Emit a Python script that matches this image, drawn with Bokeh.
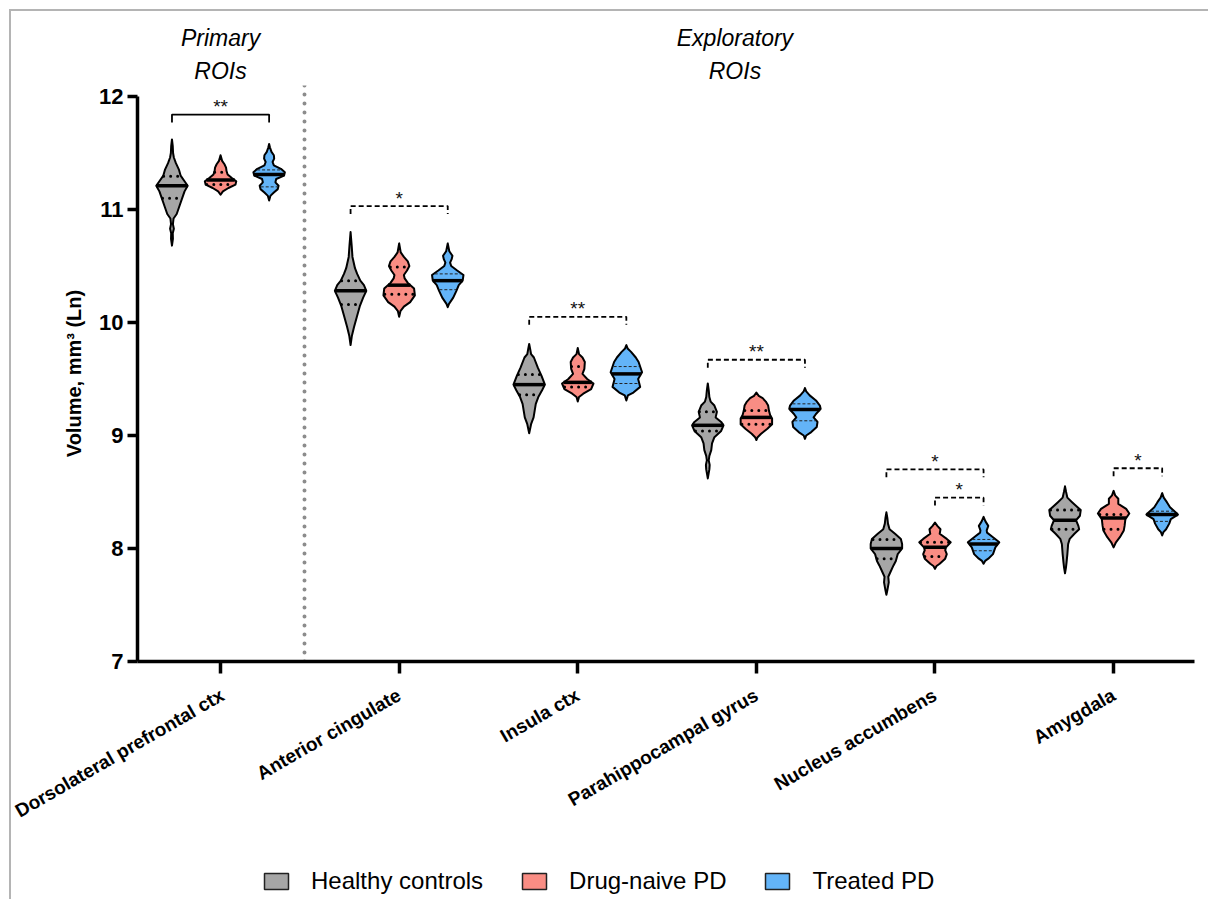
import numpy as np
from bokeh.plotting import figure
from bokeh.layouts import column
from bokeh.models import Range1d, FixedTicker, Legend, LegendItem
from bokeh.embed import file_html
from bokeh.resources import INLINE
from bokeh.core.properties import value

# ---------------- data ----------------
regions = ["Dorsolateral prefrontal ctx", "Anterior cingulate", "Insula ctx",
           "Parahippocampal gyrus", "Nucleus accumbens", "Amygdala"]
groups = ["Healthy controls", "Drug-naive PD", "Treated PD"]
colors = ["#a6a6a6", "#f98d84", "#63b4f8"]
y_ticks = [7, 8, 9, 10, 11, 12]
section_titles = ["Primary", "ROIs", "Exploratory", "ROIs"]

# medians and quartiles (ln mm^3)
hc_median = [11.21, 10.28, 9.45, 9.09, 8.00, 8.25]
hc_q3 = [11.295, 10.37, 9.54, 9.21, 8.08, 8.34]
hc_q1 = [11.10, 10.16, 9.36, 9.04, 7.91, 8.17]
dn_median = [11.26, 10.33, 9.47, 9.16, 8.01, 8.27]
dn_q3 = [11.33, 10.49, 9.61, 9.22, 8.055, 8.30]
dn_q1 = [11.22, 10.25, 9.43, 9.10, 7.93, 8.17]
tr_median = [11.31, 10.37, 9.545, 9.23, 8.04, 8.30]
tr_q3 = [11.35, 10.43, 9.61, 9.28, 8.08, 8.33]
tr_q1 = [11.20, 10.29, 9.46, 9.13, 7.98, 8.24]

# violin density profiles: levels (ln mm^3) and relative half-widths
hc_levels = [
    [10.68, 10.74, 10.79, 10.83, 10.87, 10.92, 10.96, 11.02, 11.10, 11.16, 11.21, 11.25, 11.30, 11.35, 11.41, 11.46, 11.50, 11.56, 11.62],
    [9.80, 9.88, 9.96, 10.05, 10.15, 10.22, 10.28, 10.33, 10.37, 10.43, 10.48, 10.58, 10.68, 10.80],
    [9.02, 9.10, 9.16, 9.22, 9.28, 9.34, 9.40, 9.45, 9.53, 9.60, 9.69, 9.72, 9.76, 9.81],
    [8.62, 8.66, 8.70, 8.74, 8.78, 8.82, 8.87, 8.93, 8.985, 9.04, 9.09, 9.12, 9.16, 9.21, 9.265, 9.30, 9.34, 9.40, 9.46],
    [7.59, 7.63, 7.66, 7.70, 7.75, 7.79, 7.85, 7.89, 7.95, 8.00, 8.04, 8.085, 8.13, 8.17, 8.22, 8.27, 8.32],
    [7.78, 7.83, 7.88, 7.95, 8.04, 8.085, 8.13, 8.17, 8.20, 8.25, 8.29, 8.34, 8.365, 8.41, 8.45, 8.50, 8.55],
]
hc_widths = [
    [0, 0.06, 0.05, 0.12, 0.06, 0.10, 0.30, 0.45, 0.65, 0.80, 1.0, 0.80, 0.55, 0.45, 0.25, 0.12, 0.07, 0.05, 0],
    [0, 0.08, 0.22, 0.40, 0.60, 0.80, 1.0, 0.85, 0.62, 0.42, 0.28, 0.12, 0.07, 0],
    [0, 0.12, 0.28, 0.35, 0.42, 0.58, 0.82, 1.0, 0.78, 0.55, 0.30, 0.12, 0.07, 0],
    [0, 0.05, 0.10, 0.12, 0.06, 0.10, 0.22, 0.27, 0.42, 0.85, 1.0, 0.85, 0.50, 0.58, 0.42, 0.18, 0.10, 0.06, 0],
    [0, 0.06, 0.10, 0.15, 0.12, 0.25, 0.45, 0.60, 0.72, 1.0, 1.0, 0.92, 0.55, 0.20, 0.10, 0.06, 0],
    [0, 0.06, 0.10, 0.15, 0.20, 0.30, 0.60, 0.90, 0.85, 0.70, 0.95, 1.0, 0.80, 0.45, 0.15, 0.07, 0],
]
dn_levels = [
    [11.13, 11.16, 11.19, 11.22, 11.25, 11.28, 11.31, 11.34, 11.37, 11.40, 11.43, 11.48],
    [10.05, 10.10, 10.14, 10.18, 10.24, 10.30, 10.35, 10.39, 10.42, 10.46, 10.50, 10.54, 10.58, 10.62, 10.70],
    [9.30, 9.34, 9.37, 9.41, 9.46, 9.50, 9.545, 9.59, 9.65, 9.69, 9.72, 9.775],
    [8.96, 8.985, 9.015, 9.06, 9.10, 9.15, 9.18, 9.22, 9.265, 9.30, 9.33, 9.35, 9.38],
    [7.82, 7.845, 7.865, 7.91, 7.95, 7.985, 8.01, 8.055, 8.085, 8.13, 8.17, 8.20, 8.23],
    [8.01, 8.055, 8.10, 8.16, 8.20, 8.26, 8.31, 8.35, 8.395, 8.44, 8.47, 8.51],
]
dn_widths = [
    [0, 0.15, 0.50, 0.95, 1.0, 0.70, 0.45, 0.38, 0.35, 0.25, 0.10, 0],
    [0, 0.08, 0.30, 0.70, 1.0, 0.95, 0.55, 0.35, 0.30, 0.50, 0.65, 0.55, 0.30, 0.10, 0],
    [0, 0.08, 0.35, 0.85, 1.0, 0.60, 0.30, 0.42, 0.45, 0.30, 0.08, 0],
    [0, 0.08, 0.30, 0.70, 1.0, 1.0, 0.88, 0.80, 0.75, 0.60, 0.40, 0.15, 0],
    [0, 0.10, 0.30, 0.65, 0.75, 0.65, 0.70, 1.0, 0.75, 0.30, 0.35, 0.15, 0],
    [0, 0.15, 0.40, 0.65, 0.70, 0.75, 1.0, 0.80, 0.30, 0.30, 0.10, 0],
]
tr_levels = [
    [11.08, 11.12, 11.15, 11.18, 11.21, 11.24, 11.27, 11.30, 11.33, 11.36, 11.39, 11.42, 11.45, 11.48, 11.51, 11.55, 11.58],
    [10.135, 10.165, 10.22, 10.28, 10.33, 10.37, 10.42, 10.46, 10.50, 10.53, 10.56, 10.59, 10.63, 10.70],
    [9.31, 9.355, 9.38, 9.43, 9.50, 9.56, 9.65, 9.69, 9.74, 9.77, 9.80],
    [8.97, 9.00, 9.03, 9.075, 9.12, 9.16, 9.19, 9.235, 9.265, 9.31, 9.355, 9.39, 9.42],
    [7.865, 7.89, 7.91, 7.95, 8.01, 8.055, 8.10, 8.14, 8.16, 8.20, 8.24, 8.28],
    [8.115, 8.145, 8.17, 8.22, 8.26, 8.30, 8.32, 8.365, 8.41, 8.45, 8.49],
]
tr_widths = [
    [0, 0.08, 0.30, 0.55, 0.60, 0.40, 0.45, 0.95, 1.0, 0.75, 0.30, 0.22, 0.32, 0.30, 0.15, 0.05, 0],
    [0, 0.08, 0.35, 0.55, 0.70, 0.95, 1.0, 0.60, 0.22, 0.15, 0.25, 0.30, 0.10, 0],
    [0, 0.10, 0.45, 0.88, 0.75, 1.0, 0.78, 0.60, 0.30, 0.08, 0],
    [0, 0.08, 0.40, 0.75, 0.80, 0.55, 0.70, 1.0, 0.95, 0.70, 0.30, 0.08, 0],
    [0, 0.10, 0.30, 0.60, 0.75, 1.0, 0.60, 0.22, 0.20, 0.30, 0.12, 0],
    [0, 0.08, 0.25, 0.45, 0.55, 1.0, 0.85, 0.50, 0.30, 0.10, 0],
]

# significance brackets
bracket_region = [0, 1, 2, 3, 4, 4, 5]
bracket_from = [0, 0, 0, 0, 0, 1, 1]
bracket_to = [2, 2, 2, 2, 2, 2, 2]
bracket_level = [11.84, 11.03, 10.05, 9.67, 8.70, 8.45, 8.71]
bracket_label = ["**", "*", "**", "**", "*", "*", "*"]
bracket_solid = [True, False, False, False, False, False, False]

# ---------------- layout constants ----------------
OFFSETS = [-0.272, 0.0, 0.272]
HALF_W = 0.088
LEG = 0.07
FONT = "Liberation Sans"
W = 1197
X_RANGE = Range1d(-0.465, 5.453)
TITLE_H = 74

# ---------------- title strip ----------------
title_fig = figure(width=W, height=TITLE_H, x_range=X_RANGE, y_range=Range1d(0, TITLE_H),
                   output_backend="svg", toolbar_location=None,
                   x_axis_location=None, y_axis_location=None,
                   min_border_left=126, min_border_right=W - 1183,
                   min_border_top=0, min_border_bottom=0)
title_fig.outline_line_color = None
title_fig.grid.visible = False
title_fig.text(x=[0, 0, 2.88, 2.88], y=[48, 15, 48, 15], text=section_titles,
               text_align="center", text_baseline="alphabetic",
               text_font=value(FONT), text_font_size="23px",
               text_font_style="italic", text_color="black")

# ---------------- main plot ----------------
p = figure(width=W, height=756,
           x_range=X_RANGE, y_range=Range1d(7, 12.097),
           output_backend="svg", toolbar_location=None,
           min_border_left=126, min_border_right=W - 1183,
           min_border_top=0, min_border_bottom=180)
p.outline_line_color = None
p.grid.visible = False

# separator between primary and exploratory ROIs
p.line([0.47, 0.47], [7, 12.1], line_color="#8c8c8c", line_width=4,
       line_dash="0 9", line_cap="round")

all_medians = [hc_median, dn_median, tr_median]
all_q1 = [hc_q1, dn_q1, tr_q1]
all_q3 = [hc_q3, dn_q3, tr_q3]
all_levels = [hc_levels, dn_levels, tr_levels]
all_widths = [hc_widths, dn_widths, tr_widths]

group_shapes = []
for g in range(3):
    xs, ys = [], []
    mx0, mx1, my = [], [], []
    qx0, qx1, qy = [], [], []
    for i in range(len(regions)):
        cx = i + OFFSETS[g]
        lv = np.array(all_levels[g][i], dtype=float)
        wv = np.array(all_widths[g][i], dtype=float) * HALF_W
        xs.append(list(cx + wv) + list(cx - wv[::-1]))
        ys.append(list(lv) + list(lv[::-1]))
        m = all_medians[g][i]
        wm = np.interp(m, lv, wv)
        mx0.append(cx - wm); mx1.append(cx + wm); my.append(m)
        for q in (all_q1[g][i], all_q3[g][i]):
            wq = np.interp(q, lv, wv) * 0.92
            qx0.append(cx - wq); qx1.append(cx + wq); qy.append(q)
    group_shapes.append((xs, ys))
    p.patches(xs=xs, ys=ys, fill_color=colors[g], line_color="black",
              line_width=2, line_join="round")
    if g < 2:
        p.segment(qx0, qy, qx1, qy, line_color="black", line_width=3,
                  line_dash="0 7", line_cap="round")
    else:
        p.segment(qx0, qy, qx1, qy, line_color="#222222", line_width=1,
                  line_dash="3 2")
    p.segment(mx0, my, mx1, my, line_color="black", line_width=3.5)

# brackets
for k in range(len(bracket_region)):
    xa = bracket_region[k] + OFFSETS[bracket_from[k]]
    xb = bracket_region[k] + OFFSETS[bracket_to[k]]
    lvl = bracket_level[k]
    dash = "solid" if bracket_solid[k] else "5 3"
    p.line([xa, xa, xb, xb], [lvl - LEG, lvl, lvl, lvl - LEG],
           line_color="black", line_width=1.8, line_dash=dash)
p.text(x=[bracket_region[k] + (OFFSETS[bracket_from[k]] + OFFSETS[bracket_to[k]]) / 2
          for k in range(len(bracket_region))],
       y=[lv + 0.07 for lv in bracket_level], text=bracket_label,
       text_align="center", text_baseline="alphabetic",
       text_font=value(FONT), text_font_size="19px", text_color="#111111")

# axes
yax = p.yaxis[0]
yax.bounds = (7, 12)
yax.ticker = FixedTicker(ticks=y_ticks)
yax.major_tick_out = 10
yax.major_tick_in = 0
yax.minor_tick_out = 0
yax.minor_tick_in = 0
yax.axis_line_width = 3.5
yax.major_tick_line_width = 3.5
yax.major_label_text_font = FONT
yax.major_label_text_font_style = "bold"
yax.major_label_text_font_size = "22px"
yax.major_label_text_color = "black"
yax.major_label_standoff = 4
yax.axis_label = "Volume, mm³ (Ln)"
yax.axis_label_text_font = FONT
yax.axis_label_text_font_style = "bold"
yax.axis_label_text_font_size = "20px"
yax.axis_label_text_color = "black"
yax.axis_label_standoff = 11

xax = p.xaxis[0]
xax.ticker = FixedTicker(ticks=list(range(len(regions))))
xax.major_label_overrides = {i: name for i, name in enumerate(regions)}
xax.major_tick_out = 12
xax.major_tick_in = 0
xax.minor_tick_out = 0
xax.minor_tick_in = 0
xax.axis_line_width = 3.5
xax.major_tick_line_width = 3.5
xax.major_label_text_font = FONT
xax.major_label_text_font_style = "bold"
xax.major_label_text_font_size = "19px"
xax.major_label_text_color = "black"
xax.major_label_orientation = np.pi / 6
xax.major_label_standoff = 20

# ---------------- legend strip ----------------
leg_fig = figure(width=W, height=58, x_range=Range1d(0, 1), y_range=Range1d(0, 1),
                 output_backend="svg", toolbar_location=None,
                 x_axis_location=None, y_axis_location=None,
                 min_border=0)
leg_fig.outline_line_color = None
leg_fig.grid.visible = False
legend_items = []
for g in range(3):
    r = leg_fig.patches(xs=group_shapes[g][0], ys=group_shapes[g][1],
                        fill_color=colors[g], line_color="#222222",
                        line_width=1.5, visible=False)
    legend_items.append(LegendItem(label=groups[g], renderers=[r]))
legend = Legend(items=legend_items, orientation="horizontal", location=(124, 4),
                glyph_width=30, glyph_height=20, label_standoff=20, spacing=36,
                padding=5, margin=0, border_line_color=None, background_fill_alpha=0,
                label_text_font=FONT, label_text_font_size="24px",
                label_text_color="black")
leg_fig.add_layout(legend, "center")

layout = column(title_fig, p, leg_fig, spacing=0, margin=(9, 0, 0, 9),
                styles={"border-top": "2px solid #b4b4b4", "border-left": "2px solid #b4b4b4"})

open("out.html", "w").write(file_html(layout, INLINE))
